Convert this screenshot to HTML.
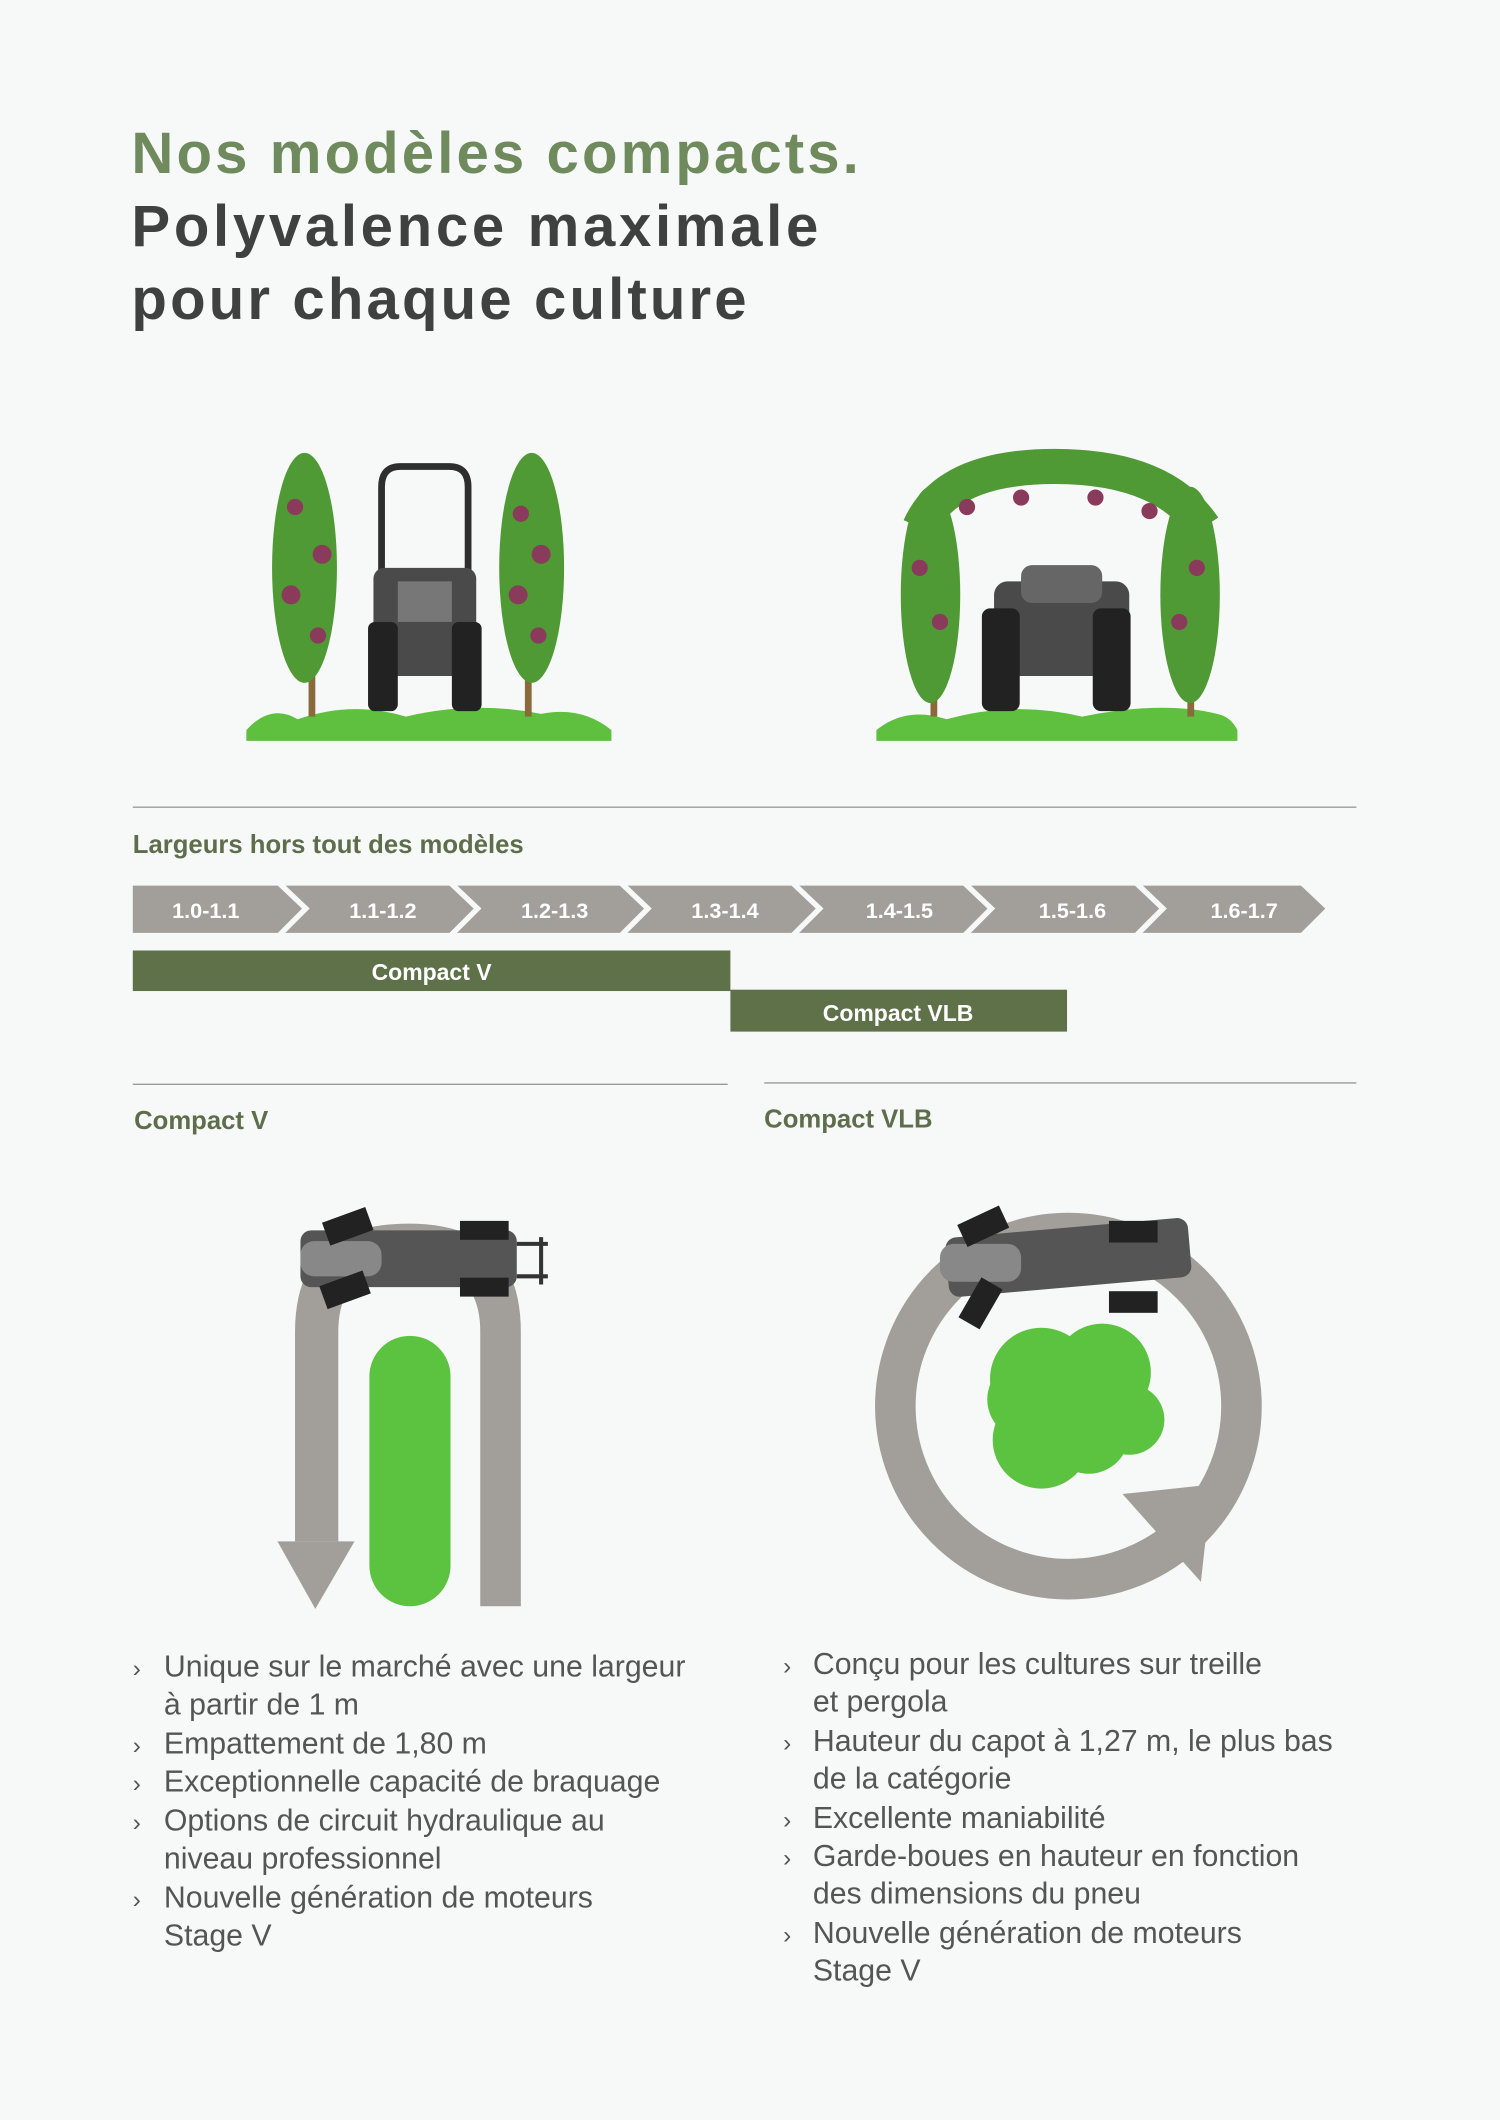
<!DOCTYPE html>
<html><head><meta charset="utf-8"><style>
html,body{margin:0;padding:0;background:#f7f9f8;}
svg{display:block}
text{font-family:"Liberation Sans",sans-serif}
</style></head><body>
<svg width="1500" height="2120" viewBox="0 0 1109 1568" xmlns="http://www.w3.org/2000/svg">
<rect width="1109" height="1568" fill="#f7f9f8"/>
<text x="97" y="128" font-size="43" font-weight="bold" fill="#6f8a5c" textLength="538" lengthAdjust="spacing">Nos modèles compacts.</text>
<text x="97" y="182" font-size="43" font-weight="bold" fill="#3f4040" textLength="508" lengthAdjust="spacing">Polyvalence maximale</text>
<text x="97" y="236" font-size="43" font-weight="bold" fill="#3f4040" textLength="455" lengthAdjust="spacing">pour chaque culture</text>

<!-- left vineyard -->
<g>
<path d="M182 540 Q200 520 220 532 Q260 518 300 530 Q350 518 400 528 Q430 522 452 540 L452 548 L182 548 Z" fill="#5fbf3f"/>
<rect x="228" y="360" width="5" height="170" fill="#8a6a3a"/>
<rect x="388" y="360" width="5" height="170" fill="#8a6a3a"/>
<ellipse cx="225" cy="420" rx="24" ry="85" fill="#4f9a35"/>
<ellipse cx="393" cy="420" rx="24" ry="85" fill="#4f9a35"/>
<g fill="#8a3a5a"><circle cx="218" cy="375" r="6"/><circle cx="238" cy="410" r="7"/><circle cx="215" cy="440" r="7"/><circle cx="235" cy="470" r="6"/><circle cx="385" cy="380" r="6"/><circle cx="400" cy="410" r="7"/><circle cx="383" cy="440" r="7"/><circle cx="398" cy="470" r="6"/></g>
<path d="M282 430 L282 360 Q282 345 296 345 L332 345 Q346 345 346 360 L346 430" fill="none" stroke="#2e2e2e" stroke-width="5"/>
<rect x="276" y="420" width="76" height="80" rx="8" fill="#4a4a4a"/>
<rect x="272" y="460" width="22" height="66" rx="5" fill="#222"/>
<rect x="334" y="460" width="22" height="66" rx="5" fill="#222"/>
<rect x="294" y="430" width="40" height="30" fill="#777"/>
</g>
<!-- right vineyard pergola -->
<g>
<path d="M648 540 Q670 522 700 532 Q750 518 800 530 Q860 518 900 528 Q910 530 915 540 L915 548 L648 548 Z" fill="#5fbf3f"/>
<rect x="688" y="370" width="5" height="160" fill="#8a6a3a"/>
<rect x="878" y="370" width="5" height="160" fill="#8a6a3a"/>
<path d="M680 390 Q700 345 780 345 Q860 345 890 390" fill="none" stroke="#4f9a35" stroke-width="26"/>
<ellipse cx="688" cy="440" rx="22" ry="80" fill="#4f9a35"/>
<ellipse cx="880" cy="440" rx="22" ry="80" fill="#4f9a35"/>
<g fill="#8a3a5a"><circle cx="715" cy="375" r="6"/><circle cx="755" cy="368" r="6"/><circle cx="810" cy="368" r="6"/><circle cx="850" cy="378" r="6"/><circle cx="680" cy="420" r="6"/><circle cx="695" cy="460" r="6"/><circle cx="885" cy="420" r="6"/><circle cx="872" cy="460" r="6"/></g>
<rect x="735" y="430" width="100" height="70" rx="10" fill="#4a4a4a"/>
<rect x="755" y="418" width="60" height="28" rx="8" fill="#666"/>
<rect x="726" y="450" width="28" height="76" rx="6" fill="#222"/>
<rect x="808" y="450" width="28" height="76" rx="6" fill="#222"/>
</g>

<line x1="98" y1="597" x2="1003" y2="597" stroke="#9a9a9a" stroke-width="1"/>
<text x="98" y="631" font-size="19" font-weight="bold" fill="#5e6e4c">Largeurs hors tout des modèles</text>

<polygon points="98,655 962,655 980,672 962,690 98,690" fill="#a29e9a"/>
<g fill="none" stroke="#f7f9f8" stroke-width="4">
<polyline points="206,653 226,672 206,692"/>
<polyline points="333,653 353,672 333,692"/>
<polyline points="459,653 479,672 459,692"/>
<polyline points="586,653 606,672 586,692"/>
<polyline points="713,653 733,672 713,692"/>
<polyline points="840,653 860,672 840,692"/>
</g>
<g font-size="16" font-weight="bold" fill="#fff" text-anchor="middle">
<text x="152" y="679">1.0-1.1</text><text x="283" y="679">1.1-1.2</text><text x="410" y="679">1.2-1.3</text><text x="536" y="679">1.3-1.4</text><text x="665" y="679">1.4-1.5</text><text x="793" y="679">1.5-1.6</text><text x="920" y="679">1.6-1.7</text>
</g>
<rect x="98" y="703" width="442" height="30" fill="#5f7148"/>
<text x="319" y="725" font-size="17" font-weight="bold" fill="#fff" text-anchor="middle">Compact V</text>
<rect x="540" y="732" width="249" height="31" fill="#5f7148"/>
<text x="664" y="755" font-size="17" font-weight="bold" fill="#fff" text-anchor="middle">Compact VLB</text>

<line x1="98" y1="802" x2="538" y2="802" stroke="#9a9a9a"/>
<line x1="565" y1="801" x2="1003" y2="801" stroke="#9a9a9a"/>
<text x="99" y="835" font-size="19" font-weight="bold" fill="#5e6e4c">Compact V</text>
<text x="565" y="834" font-size="19" font-weight="bold" fill="#5e6e4c">Compact VLB</text>

<!-- left U-turn -->
<path d="M218 1140 L218 985 Q218 905 302 905 Q385 905 385 985 L385 1188 L355 1188 L355 985 Q355 935 302 935 Q250 935 250 985 L250 1140 Z" fill="#a29e9a"/>
<polygon points="205,1140 262,1140 233,1190" fill="#a29e9a"/>
<rect x="273" y="988" width="60" height="200" rx="30" fill="#5cc341"/>
<g>
<rect x="222" y="910" width="160" height="42" rx="8" fill="#555"/>
<rect x="222" y="918" width="60" height="26" rx="10" fill="#888"/>
<rect x="240" y="898" width="34" height="18" fill="#222" transform="rotate(-20 257 907)"/>
<rect x="238" y="945" width="34" height="18" fill="#222" transform="rotate(-20 255 954)"/>
<rect x="340" y="903" width="36" height="14" fill="#222"/>
<rect x="340" y="945" width="36" height="14" fill="#222"/>
<path d="M382 920 L405 920 M382 944 L405 944 M400 915 L400 950" stroke="#333" stroke-width="3"/>
</g>

<!-- right circle -->
<circle cx="790" cy="1040" r="128" fill="none" stroke="#a29e9a" stroke-width="30"/>
<polygon points="830,1105 896,1098 888,1170" fill="#a29e9a"/>
<g fill="#5cc341">
<circle cx="770" cy="1020" r="38"/><circle cx="815" cy="1015" r="36"/><circle cx="835" cy="1050" r="26"/><circle cx="770" cy="1065" r="36"/><circle cx="805" cy="1060" r="30"/><circle cx="760" cy="1035" r="30"/>
</g>
<g>
<rect x="700" y="908" width="180" height="44" rx="8" fill="#555" transform="rotate(-5 790 930)"/>
<rect x="695" y="920" width="60" height="28" rx="10" fill="#888"/>
<rect x="710" y="898" width="34" height="18" fill="#222" transform="rotate(-25 727 907)"/>
<rect x="708" y="955" width="34" height="18" fill="#222" transform="rotate(-60 725 964)"/>
<rect x="820" y="903" width="36" height="16" fill="#222"/>
<rect x="820" y="955" width="36" height="16" fill="#222"/>
</g>

<g font-size="22.4" fill="#555">
<text x="98" y="1240" font-size="18">›</text><text x="121" y="1240">Unique sur le marché avec une largeur</text>
<text x="121" y="1268">à partir de 1 m</text>
<text x="98" y="1297" font-size="18">›</text><text x="121" y="1297">Empattement de 1,80 m</text>
<text x="98" y="1325" font-size="18">›</text><text x="121" y="1325">Exceptionnelle capacité de braquage</text>
<text x="98" y="1354" font-size="18">›</text><text x="121" y="1354">Options de circuit hydraulique au</text>
<text x="121" y="1382">niveau professionnel</text>
<text x="98" y="1411" font-size="18">›</text><text x="121" y="1411">Nouvelle génération de moteurs</text>
<text x="121" y="1439">Stage V</text>

<text x="579" y="1238" font-size="18">›</text><text x="601" y="1238">Conçu pour les cultures sur treille</text>
<text x="601" y="1266">et pergola</text>
<text x="579" y="1295" font-size="18">›</text><text x="601" y="1295">Hauteur du capot à 1,27 m, le plus bas</text>
<text x="601" y="1323">de la catégorie</text>
<text x="579" y="1352" font-size="18">›</text><text x="601" y="1352">Excellente maniabilité</text>
<text x="579" y="1380" font-size="18">›</text><text x="601" y="1380">Garde-boues en hauteur en fonction</text>
<text x="601" y="1408">des dimensions du pneu</text>
<text x="579" y="1437" font-size="18">›</text><text x="601" y="1437">Nouvelle génération de moteurs</text>
<text x="601" y="1465">Stage V</text>
</g>
</svg>
</body></html>
